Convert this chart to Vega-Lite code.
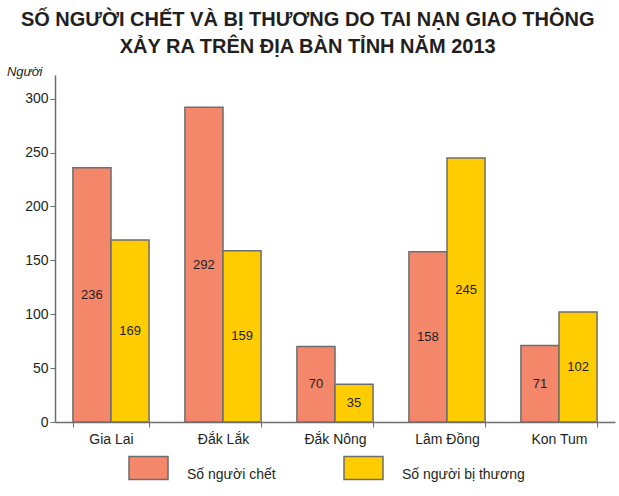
{
  "$schema": "https://vega.github.io/schema/vega-lite/v6.json",
  "width": 560,
  "height": 347,
  "autosize": {"type": "none"},
  "padding": {"left": 55, "top": 75, "right": 4, "bottom": 74},
  "background": "white",
  "title": {
    "text": ["SỐ NGƯỜI CHẾT VÀ BỊ THƯƠNG DO TAI NẠN GIAO THÔNG", "XẢY RA TRÊN ĐỊA BÀN TỈNH NĂM 2013"],
    "font": "Liberation Sans",
    "fontSize": 20,
    "fontWeight": "bold",
    "color": "#231f20",
    "lineHeight": 27,
    "anchor": "middle",
    "frame": "bounds",
    "dx": -3,
    "offset": 8
  },
  "data": {
    "values": [
      {"tinh": "Gia Lai", "loai": "Số người chết", "so": 236},
      {"tinh": "Gia Lai", "loai": "Số người bị thương", "so": 169},
      {"tinh": "Đắk Lắk", "loai": "Số người chết", "so": 292},
      {"tinh": "Đắk Lắk", "loai": "Số người bị thương", "so": 159},
      {"tinh": "Đắk Nông", "loai": "Số người chết", "so": 70},
      {"tinh": "Đắk Nông", "loai": "Số người bị thương", "so": 35},
      {"tinh": "Lâm Đồng", "loai": "Số người chết", "so": 158},
      {"tinh": "Lâm Đồng", "loai": "Số người bị thương", "so": 245},
      {"tinh": "Kon Tum", "loai": "Số người chết", "so": 71},
      {"tinh": "Kon Tum", "loai": "Số người bị thương", "so": 102}
    ]
  },
  "encoding": {
    "x": {
      "field": "tinh",
      "type": "nominal",
      "sort": ["Gia Lai", "Đắk Lắk", "Đắk Nông", "Lâm Đồng", "Kon Tum"],
      "scale": {"paddingInner": 0.32, "paddingOuter": 0.16},
      "axis": {
        "title": null,
        "labelAngle": 0,
        "tickBand": "extent",
        "tickSize": 5,
        "tickColor": "#6d6e70",
        "domainColor": "#6d6e70",
        "domainWidth": 1.5,
        "labelPadding": 5,
        "labelFontSize": 14,
        "labelColor": "#231f20",
        "labelFont": "Liberation Sans"
      }
    },
    "xOffset": {
      "field": "loai",
      "type": "nominal",
      "sort": ["Số người chết", "Số người bị thương"]
    }
  },
  "layer": [
    {
      "mark": {"type": "bar", "stroke": "#6d6e70", "strokeWidth": 1.5},
      "encoding": {
        "y": {
          "field": "so",
          "type": "quantitative",
          "scale": {"domain": [0, 322], "nice": false},
          "axis": {
            "values": [0, 50, 100, 150, 200, 250, 300],
            "grid": false,
            "tickSize": 5,
            "tickColor": "#6d6e70",
            "domainColor": "#6d6e70",
            "domainWidth": 1.5,
            "labelPadding": 2,
            "labelFontSize": 14,
            "labelColor": "#231f20",
            "labelFont": "Liberation Sans",
            "title": "Người",
            "titleAngle": 0,
            "titleAlign": "right",
            "titleBaseline": "bottom",
            "titleX": -13,
            "titleY": 3,
            "titleFont": "Liberation Sans",
            "titleFontStyle": "italic",
            "titleFontWeight": "normal",
            "titleFontSize": 13,
            "titleColor": "#231f20"
          }
        },
        "color": {
          "field": "loai",
          "type": "nominal",
          "sort": ["Số người chết", "Số người bị thương"],
          "scale": {"domain": ["Số người chết", "Số người bị thương"], "range": ["#f4866a", "#ffcc00"]},
          "legend": {
            "title": null,
            "orient": "none",
            "direction": "horizontal",
            "legendX": 73,
            "legendY": 372,
            "symbolType": "M-1,-0.59H1V0.59H-1Z",
            "symbolSize": 1521,
            "symbolStrokeColor": "#6d6e70",
            "symbolStrokeWidth": 1.5,
            "symbolOpacity": 1,
            "labelFontSize": 14,
            "labelFont": "Liberation Sans",
            "labelColor": "#231f20",
            "labelOffset": 18,
            "labelBaseline": "top",
            "labelLimit": 200,
            "columnPadding": 65
          }
        }
      }
    },
    {
      "mark": {"type": "text", "fontSize": 13, "font": "Liberation Sans", "color": "#231f20", "baseline": "middle"},
      "encoding": {
        "y": {
          "field": "so",
          "type": "quantitative",
          "scale": {"domain": [0, 644], "nice": false},
          "axis": null
        },
        "text": {"field": "so", "type": "quantitative"}
      }
    }
  ],
  "resolve": {"scale": {"y": "independent"}},
  "config": {"view": {"stroke": null}}
}
